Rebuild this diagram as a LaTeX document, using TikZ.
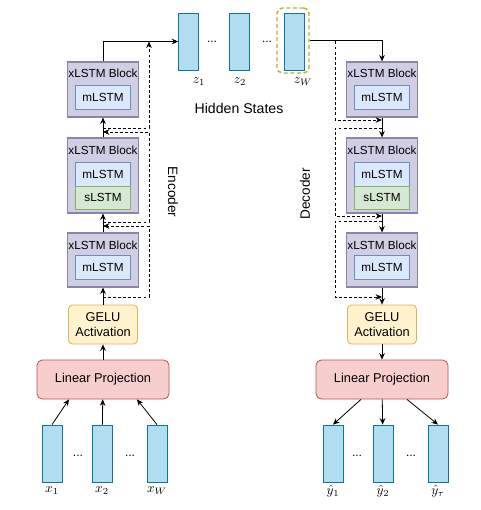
\documentclass[tikz,border=0pt]{standalone}
\usepackage{amsmath}
\usepackage{fontspec}
\setsansfont{Liberation Sans}
\usetikzlibrary{arrows.meta,calc}
\definecolor{blkfill}{HTML}{D0CEE2}
\definecolor{blkline}{HTML}{8A84A8}
\definecolor{mfill}{HTML}{DAE8FC}
\definecolor{mline}{HTML}{6C8EBF}
\definecolor{sfill}{HTML}{D5E8D4}
\definecolor{sline}{HTML}{82B366}
\definecolor{gfill}{HTML}{FFF2CC}
\definecolor{gline}{HTML}{D6B656}
\definecolor{lfill}{HTML}{F8CECC}
\definecolor{lline}{HTML}{B85450}
\definecolor{vfill}{HTML}{B1DDF0}
\definecolor{vline}{HTML}{10739E}
\definecolor{zframe}{HTML}{B4B432}
\tikzset{
  blk/.style={draw=blkline,fill=blkfill,line width=0.9pt,minimum width=53.25pt},
  ttl/.style={font=\sffamily\fontsize{8.8}{10}\selectfont,inner sep=1pt},
  mcell/.style={draw=mline,fill=mfill,line width=0.6pt,minimum width=41.25pt,minimum height=18pt,font=\sffamily\fontsize{8.8}{10}\selectfont},
  scell/.style={mcell,draw=sline,fill=sfill,minimum height=17.25pt},
  gelu/.style={draw=gline,fill=gfill,rounded corners=3pt,align=center,minimum width=51.75pt,minimum height=29.25pt,font=\sffamily\fontsize{9.6}{11}\selectfont,inner sep=1pt},
  lin/.style={draw=lline,fill=lfill,rounded corners=4pt,minimum width=99pt,minimum height=29.25pt,font=\sffamily\fontsize{9.6}{11}\selectfont},
  vec/.style={draw=vline,fill=vfill,line width=0.6pt,minimum width=15pt,minimum height=42.75pt,inner sep=0pt},
  dots/.style={font=\sffamily\fontsize{9}{10}\selectfont,inner sep=1pt},
  res/.style={dashed,dash pattern=on 2.2pt off 1.6pt,line width=0.6pt},
}

\begin{document}
\begin{tikzpicture}[x=0.75pt,y=-0.75pt,font=\sffamily,line width=0.6pt,>={Stealth[length=4.8pt,width=4.2pt]}]
   \useasboundingbox (0,0) rectangle (480,510);
   % two xLSTM stacks
   \foreach \s/\cx in {e/103,d/382}{
      \node[blk,minimum height=41.25pt] (\s top) at (\cx,89.5) {};
      \node[ttl] (\s toptitle) at (\cx,73) {xLSTM Block};
      \node[mcell] (\s topm) at (\cx,97) {mLSTM};
      \node[blk,minimum height=56.25pt] (\s mid) at (\cx,175.5) {};
      \node[ttl] (\s midtitle) at (\cx,150) {xLSTM Block};
      \node[mcell] (\s midm) at (\cx,174) {mLSTM};
      \node[scell] (\s mids) at (\cx,197.5) {sLSTM};
      \node[blk,minimum height=40.5pt] (\s bot) at (\cx,260) {};
      \node[ttl] (\s bottitle) at (\cx,245) {xLSTM Block};
      \node[mcell] (\s botm) at (\cx,267) {mLSTM};
      \node[gelu] (\s g) at (\cx,324.5) {GELU\\Activation};
      \node[lin] (\s l) at (\cx,379.5) {Linear Projection};
   }
   % inputs and outputs
   \foreach \n/\cx/\lab in {x1/52/x_1,x2/102/x_2,xw/157/x_W,y1/333/\hat{y}_1,y2/383/\hat{y}_2,yt/438/\hat{y}_\tau}{
      \node[vec] (\n) at (\cx,453.5) {};
      \node (\n lab) at (\cx,491) {$\lab$};
   }
   \node[dots] (dx1) at (78,456) {...};
   \node[dots] (dx2) at (130,456) {...};
   \node[dots] (dy1) at (357,456) {...};
   \node[dots] (dy2) at (411,456) {...};
   % hidden states
   \node[vec] (z1) at (188.5,41.5) {};
   \node[vec] (z2) at (239,41.5) {};
   \node[vec] (zw) at (294,41.5) {};
   \node[draw=zframe,line width=1.1pt,dash pattern=on 3pt off 2pt,rounded corners=4pt,minimum width=24pt,minimum height=48.75pt] (zwf) at (293,40.5) {};
   \node (z1lab) at (199,82) {$z_1$};
   \node (z2lab) at (240,82) {$z_2$};
   \node (zwlab) at (303,82) {$z_W$};
   \node[dots] (dz1) at (212,42) {...};
   \node[dots] (dz2) at (267,42) {...};
   \node[font=\sffamily\fontsize{10.6}{12}\selectfont] (hid) at (239,108) {Hidden States};
   \node[rotate=-90,font=\sffamily\fontsize{10.2}{12}\selectfont] (enc) at (173,192) {Encoder};
   \node[rotate=90,font=\sffamily\fontsize{10.2}{12}\selectfont] (dec) at (305,194) {Decoder};
   % encoder path
   \draw[->] (x1.north) -- ($(el.south)+(-34,0)$);
   \draw[->] (x2) -- (el);
   \draw[->] (xw.north) -- ($(el.south)+(34,0)$);
   \draw[->] (el) -- (eg);
   \draw[->] (eg) -- (ebot);
   \draw[->] (ebot) -- (emid);
   \draw[->] (emid) -- (etop);
   \draw[->] (etop.north) |- (z1.west);
   % decoder path
   \draw[->] (zwf.east) -| (dtop.north);
   \draw[->] (dtop) -- (dmid);
   \draw[->] (dmid) -- (dbot);
   \draw[->] (dbot) -- (dg);
   \draw[->] (dg) -- (dl);
   \draw[->] ($(dl.south)+(-21,0)$) -- (y1.north);
   \draw[->] (dl) -- (y2);
   \draw[->] ($(dl.south)+(25,0)$) -- (yt.north);
   % residual links
   \coordinate (ea) at (103,297);
   \coordinate (eb) at (103,226);
   \coordinate (ec) at (103,222);
   \coordinate (ed) at (103,132);
   \coordinate (ee) at (103,128);
   \coordinate (ef) at (149,41.5);
   \draw[res,->] (ea) -- ++(46,0) |- (eb);
   \draw[res,->] (ec) -- ++(46,0) |- (ed);
   \draw[res,->] (ee) -| (ef);
   \coordinate (da) at (335,41.5);
   \coordinate (db) at (382,120);
   \coordinate (dc) at (382,128);
   \coordinate (dd) at (382,216);
   \coordinate (de) at (382,221);
   \coordinate (df) at (382,297);
   \draw[res,->] (da) |- (db);
   \draw[res,->] (dc) -- ++(-47,0) |- (dd);
   \draw[res,->] (de) -- ++(-47,0) |- (df);
\end{tikzpicture}
\end{document}
